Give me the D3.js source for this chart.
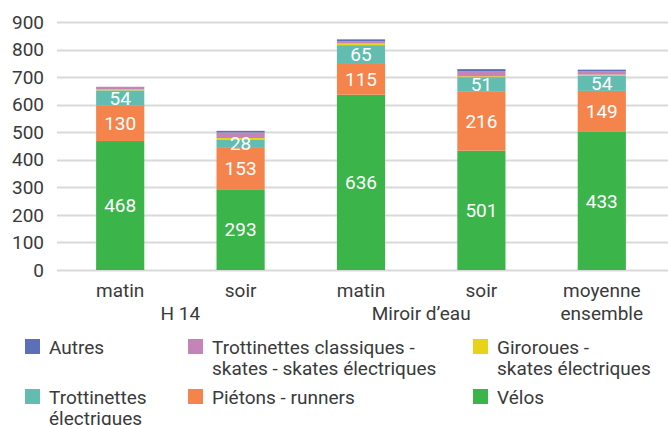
<!DOCTYPE html>
<html>
<head>
<meta charset="utf-8">
<script src="https://cdn.jsdelivr.net/npm/d3@7"></script>
<style>
  body { margin: 0; background: #fff; }
  svg { display: block; font-family: Roboto, "Noto Sans", sans-serif; }
</style>
</head>
<body>
<svg width="668" height="425"></svg>
<script>
// Data
var categories = ["matin", "soir", "matin", "soir", "moyenne\nensemble"];
var groups = ["H 14", "Miroir d’eau"];
var groupSpans = [[0, 1], [2, 3]];
var yTicks = [0, 100, 200, 300, 400, 500, 600, 700, 800, 900];

var velos = [468, 293, 636, 433, 501];
var velosLabels = [468, 293, 636, 501, 433];   // printed labels, as in the source picture
var pietons = [130, 153, 115, 216, 149];
var trottElec = [54, 28, 65, 51, 54];
var giroroues = [3, 5, 6, 3, 5];
var trottClass = [10, 20, 8, 19, 12];
var autres = [0, 6, 7, 7, 6];

var keys = ["velos", "pietons", "trottElec", "giroroues", "trottClass", "autres"];
var colors = {
  velos: "#3bb54a", pietons: "#f5844c", trottElec: "#62bdb0",
  giroroues: "#e8d21a", trottClass: "#c584b8", autres: "#5b70b8"
};
var legendNames = {
  autres: "Autres",
  trottClass: "Trottinettes classiques -\nskates - skates électriques",
  giroroues: "Giroroues -\nskates électriques",
  trottElec: "Trottinettes\nélectriques",
  pietons: "Piétons - runners",
  velos: "Vélos"
};
var legendOrder = ["autres", "trottClass", "giroroues", "trottElec", "pietons", "velos"];

var table = categories.map(function(c, i) {
  return { i: i, velos: velos[i], pietons: pietons[i], trottElec: trottElec[i],
           giroroues: giroroues[i], trottClass: trottClass[i], autres: autres[i] };
});
var labelText = {
  velos: velosLabels, pietons: pietons, trottElec: trottElec
};

var svg = d3.select("svg");
var textColor = "#3a3a3a";
var fs = 19;

var x = d3.scaleBand()
    .domain(d3.range(categories.length))
    .range([60, 662])
    .paddingInner(0.6)
    .paddingOuter(0.3);

var y = d3.scaleLinear()
    .domain([0, 900])
    .range([270, 22]);

// grid
svg.append("g")
  .selectAll("line")
  .data(yTicks)
  .join("line")
    .attr("x1", 57).attr("x2", 668)
    .attr("y1", function(d) { return Math.round(y(d)) + 0.5; })
    .attr("y2", function(d) { return Math.round(y(d)) + 0.5; })
    .attr("stroke", "#d9d9d9")
    .attr("stroke-width", 2);

// y labels
svg.append("g")
  .selectAll("text")
  .data(yTicks)
  .join("text")
    .attr("x", 44)
    .attr("y", function(d) { return y(d); })
    .attr("dy", "0.35em")
    .attr("text-anchor", "end")
    .attr("font-size", fs)
    .attr("fill", textColor)
    .text(function(d) { return d; });

// bars
var series = d3.stack().keys(keys)(table);

var layers = svg.append("g")
  .selectAll("g")
  .data(series)
  .join("g")
    .attr("fill", function(d) { return colors[d.key]; });

layers.selectAll("rect")
  .data(function(d) { return d; })
  .join("rect")
    .attr("x", function(d) { return x(d.data.i); })
    .attr("width", x.bandwidth())
    .attr("y", function(d) { return y(d[1]); })
    .attr("height", function(d) { return y(d[0]) - y(d[1]); });

// value labels
series.filter(function(s) { return labelText[s.key]; }).forEach(function(s) {
  svg.append("g")
    .selectAll("text")
    .data(s)
    .join("text")
      .attr("x", function(d) { return x(d.data.i) + x.bandwidth() / 2; })
      .attr("y", function(d) { return (y(d[0]) + y(d[1])) / 2; })
      .attr("dy", "0.36em")
      .attr("text-anchor", "middle")
      .attr("font-size", fs)
      .attr("fill", "#fff")
      .text(function(d) { return labelText[s.key][d.data.i]; });
});

// category labels
var catG = svg.append("g");
categories.forEach(function(c, i) {
  var t = catG.append("text")
    .attr("x", x(i) + x.bandwidth() / 2)
    .attr("y", 297)
    .attr("text-anchor", "middle")
    .attr("font-size", fs)
    .attr("fill", textColor);
  c.split("\n").forEach(function(line, k) {
    t.append("tspan")
      .attr("x", x(i) + x.bandwidth() / 2)
      .attr("dy", k === 0 ? 0 : 23)
      .text(line);
  });
});

// group labels
groups.forEach(function(g, k) {
  var a = groupSpans[k][0], b = groupSpans[k][1];
  catG.append("text")
    .attr("x", (x(a) + x(b) + x.bandwidth()) / 2)
    .attr("y", 320)
    .attr("text-anchor", "middle")
    .attr("font-size", fs)
    .attr("fill", textColor)
    .text(g);
});

// legend
var legX = [25, 188, 473];
var legY = [339, 389];
var legend = svg.append("g");
legendOrder.forEach(function(key, n) {
  var lx = legX[n % 3], ly = legY[Math.floor(n / 3)];
  legend.append("rect")
    .attr("x", lx).attr("y", ly)
    .attr("width", 15).attr("height", 15)
    .attr("fill", colors[key]);
  var t = legend.append("text")
    .attr("x", lx + 24)
    .attr("y", ly + 15)
    .attr("font-size", fs)
    .attr("fill", textColor);
  legendNames[key].split("\n").forEach(function(line, k) {
    t.append("tspan")
      .attr("x", lx + 24)
      .attr("dy", k === 0 ? 0 : 21)
      .text(line);
  });
});
</script>
</body>
</html>
